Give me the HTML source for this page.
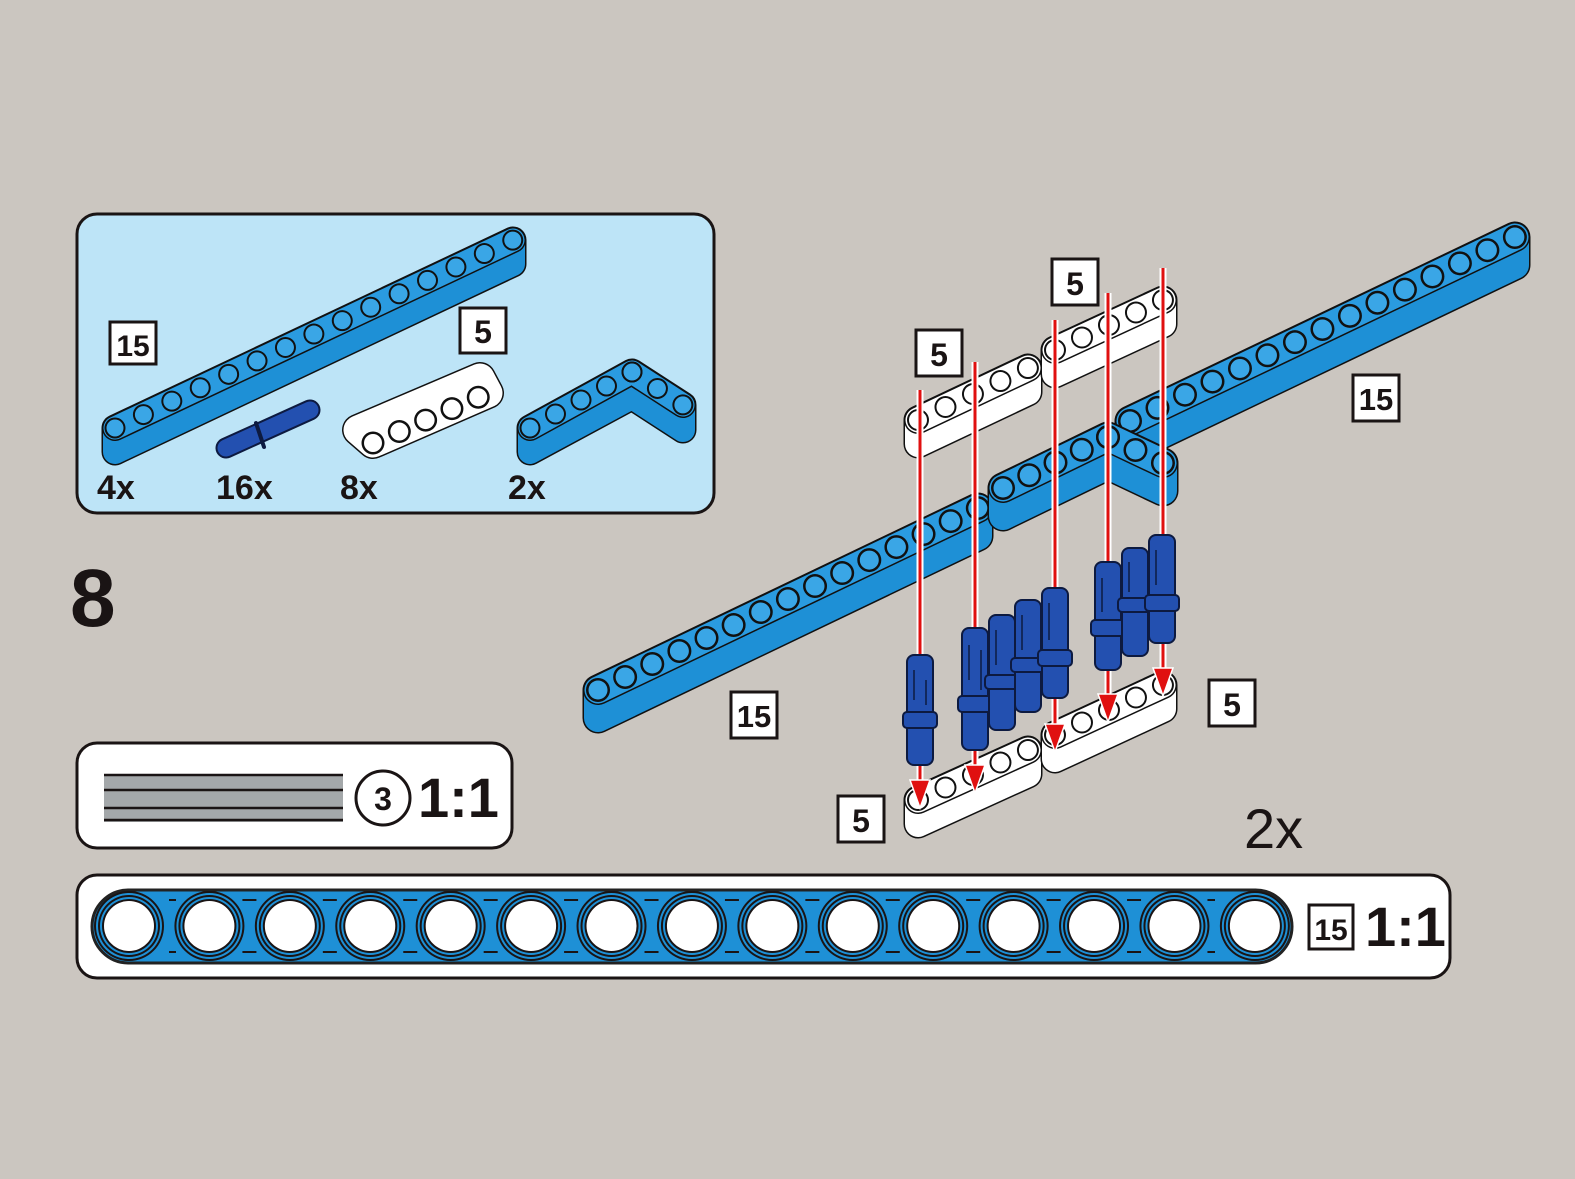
<!DOCTYPE html>
<html><head><meta charset="utf-8"><style>
html,body{margin:0;padding:0;background:#cbc6c0}
svg{display:block}
text{font-family:"Liberation Sans",sans-serif;font-weight:bold;fill:#1a1414}
</style></head><body>
<svg width="1575" height="1179" viewBox="0 0 1575 1179" xmlns="http://www.w3.org/2000/svg">
<rect width="1575" height="1179" fill="#cbc6c0"/>

<!-- Parts box -->
<rect x="77" y="214" width="637" height="299" rx="20" fill="#bde4f7" stroke="#1a1414" stroke-width="3"/>
<g stroke-linejoin="round" stroke-linecap="round">
<polygon points="115,428 513,240 513,264 115,452" fill="#111" stroke="#111" stroke-width="27"/>
<polygon points="115,428 513,240 513,264 115,452" fill="#1e90d6" stroke="#1e90d6" stroke-width="24"/>
<line x1="115" y1="428" x2="513" y2="240" stroke="#111" stroke-width="26"/>
<line x1="115" y1="428" x2="513" y2="240" stroke="#2a9be0" stroke-width="23"/>
<line x1="115" y1="428" x2="513" y2="240" stroke="#111" stroke-width="21" stroke-dasharray="0 31.42"/>
<line x1="115" y1="428" x2="513" y2="240" stroke="#3aa6e6" stroke-width="17" stroke-dasharray="0 31.42"/>
<!-- pin in box -->
<line x1="226" y1="448" x2="310" y2="410" stroke="#0d1a40" stroke-width="21"/>
<line x1="226" y1="448" x2="310" y2="410" stroke="#2350b0" stroke-width="17"/>
<line x1="256" y1="423" x2="264" y2="447" stroke="#0d1a40" stroke-width="4"/>
<!-- white 5 beam in box -->
<polygon points="358,430 480,378 488,393 373,443" fill="#111" stroke="#111" stroke-width="32"/>
<polygon points="358,430 480,378 488,393 373,443" fill="#fff" stroke="#fff" stroke-width="29"/>
<line x1="373" y1="443" x2="488" y2="393" stroke="#111" stroke-width="23" stroke-dasharray="0 28.69"/>
<line x1="373" y1="443" x2="488" y2="393" stroke="#fff" stroke-width="18" stroke-dasharray="0 28.69"/>
<!-- L beam in box -->
<polygon points="530,428 632,372 683,405 683,430 632,397 530,452" fill="#111" stroke="#111" stroke-width="27"/>
<polygon points="530,428 632,372 683,405 683,430 632,397 530,452" fill="#1e90d6" stroke="#1e90d6" stroke-width="24"/>
<polyline points="530,428 632,372 683,405" fill="none" stroke="#111" stroke-width="26"/>
<polyline points="530,428 632,372 683,405" fill="none" stroke="#2a9be0" stroke-width="23"/>
<line x1="530" y1="428" x2="632" y2="372" stroke="#111" stroke-width="21" stroke-dasharray="0 29.09"/>
<line x1="530" y1="428" x2="632" y2="372" stroke="#3aa6e6" stroke-width="17" stroke-dasharray="0 29.09"/>
<line x1="632" y1="372" x2="683" y2="405" stroke="#111" stroke-width="21" stroke-dasharray="0 30.29"/>
<line x1="632" y1="372" x2="683" y2="405" stroke="#3aa6e6" stroke-width="17" stroke-dasharray="0 30.29"/>
</g>
<rect x="110" y="322" width="46" height="42" fill="#fff" stroke="#1a1414" stroke-width="3"/>
<text x="133" y="356" font-size="30" text-anchor="middle">15</text>
<rect x="460" y="308" width="46" height="45" fill="#fff" stroke="#1a1414" stroke-width="3"/>
<text x="483" y="343" font-size="32" text-anchor="middle">5</text>
<text x="97" y="499" font-size="34">4x</text>
<text x="216" y="499" font-size="34">16x</text>
<text x="340" y="499" font-size="34">8x</text>
<text x="508" y="499" font-size="34">2x</text>

<text x="70" y="626" font-size="82">8</text>

<!-- Main assembly -->
<g stroke-linejoin="round" stroke-linecap="round">
<polygon points="598,690 978,508 978,536 598,718" fill="#111" stroke="#111" stroke-width="31"/>
<polygon points="598,690 978,508 978,536 598,718" fill="#1e90d6" stroke="#1e90d6" stroke-width="28"/>
<line x1="598" y1="690" x2="978" y2="508" stroke="#111" stroke-width="30"/>
<line x1="598" y1="690" x2="978" y2="508" stroke="#2a9be0" stroke-width="27"/>
<line x1="598" y1="690" x2="978" y2="508" stroke="#111" stroke-width="24" stroke-dasharray="0 30.08"/>
<line x1="598" y1="690" x2="978" y2="508" stroke="#3aa6e6" stroke-width="19" stroke-dasharray="0 30.08"/>

<polygon points="1130,421 1515,237 1515,265 1130,449" fill="#111" stroke="#111" stroke-width="31"/>
<polygon points="1130,421 1515,237 1515,265 1130,449" fill="#1e90d6" stroke="#1e90d6" stroke-width="28"/>
<line x1="1130" y1="421" x2="1515" y2="237" stroke="#111" stroke-width="30"/>
<line x1="1130" y1="421" x2="1515" y2="237" stroke="#2a9be0" stroke-width="27"/>
<line x1="1130" y1="421" x2="1515" y2="237" stroke="#111" stroke-width="24" stroke-dasharray="0 30.47"/>
<line x1="1130" y1="421" x2="1515" y2="237" stroke="#3aa6e6" stroke-width="19" stroke-dasharray="0 30.47"/>

<polygon points="1003,488 1108,437 1163,463 1163,491 1108,465 1003,516" fill="#111" stroke="#111" stroke-width="31"/>
<polygon points="1003,488 1108,437 1163,463 1163,491 1108,465 1003,516" fill="#1e90d6" stroke="#1e90d6" stroke-width="28"/>
<polyline points="1003,488 1108,437 1163,463" fill="none" stroke="#111" stroke-width="30"/>
<polyline points="1003,488 1108,437 1163,463" fill="none" stroke="#2a9be0" stroke-width="27"/>
<line x1="1108" y1="465" x2="1108" y2="490" stroke="#111" stroke-width="2"/>
<line x1="1003" y1="488" x2="1108" y2="437" stroke="#111" stroke-width="24" stroke-dasharray="0 29.18"/>
<line x1="1003" y1="488" x2="1108" y2="437" stroke="#3aa6e6" stroke-width="19" stroke-dasharray="0 29.18"/>
<line x1="1108" y1="437" x2="1163" y2="463" stroke="#111" stroke-width="24" stroke-dasharray="0 30.39"/>
<line x1="1108" y1="437" x2="1163" y2="463" stroke="#3aa6e6" stroke-width="19" stroke-dasharray="0 30.39"/>

<!-- white top beams -->
<polygon points="918,420 1028,368 1028,392 918,444" fill="#111" stroke="#111" stroke-width="29"/>
<polygon points="918,420 1028,368 1028,392 918,444" fill="#fff" stroke="#fff" stroke-width="26"/>
<line x1="918" y1="420" x2="1028" y2="368" stroke="#111" stroke-width="28"/>
<line x1="918" y1="420" x2="1028" y2="368" stroke="#fff" stroke-width="25"/>
<line x1="918" y1="420" x2="1028" y2="368" stroke="#111" stroke-width="22" stroke-dasharray="0 30.39"/>
<line x1="918" y1="420" x2="1028" y2="368" stroke="#fff" stroke-width="18" stroke-dasharray="0 30.39"/>
<polygon points="1055,350 1163,300 1163,324 1055,374" fill="#111" stroke="#111" stroke-width="29"/>
<polygon points="1055,350 1163,300 1163,324 1055,374" fill="#fff" stroke="#fff" stroke-width="26"/>
<line x1="1055" y1="350" x2="1163" y2="300" stroke="#111" stroke-width="28"/>
<line x1="1055" y1="350" x2="1163" y2="300" stroke="#fff" stroke-width="25"/>
<line x1="1055" y1="350" x2="1163" y2="300" stroke="#111" stroke-width="22" stroke-dasharray="0 29.74"/>
<line x1="1055" y1="350" x2="1163" y2="300" stroke="#fff" stroke-width="18" stroke-dasharray="0 29.74"/>

<!-- white bottom beams -->
<polygon points="918,800 1028,750 1028,774 918,824" fill="#111" stroke="#111" stroke-width="29"/>
<polygon points="918,800 1028,750 1028,774 918,824" fill="#fff" stroke="#fff" stroke-width="26"/>
<line x1="918" y1="800" x2="1028" y2="750" stroke="#111" stroke-width="28"/>
<line x1="918" y1="800" x2="1028" y2="750" stroke="#fff" stroke-width="25"/>
<line x1="918" y1="800" x2="1028" y2="750" stroke="#111" stroke-width="22" stroke-dasharray="0 30.19"/>
<line x1="918" y1="800" x2="1028" y2="750" stroke="#fff" stroke-width="18" stroke-dasharray="0 30.19"/>
<polygon points="1055,735 1163,685 1163,709 1055,759" fill="#111" stroke="#111" stroke-width="29"/>
<polygon points="1055,735 1163,685 1163,709 1055,759" fill="#fff" stroke="#fff" stroke-width="26"/>
<line x1="1055" y1="735" x2="1163" y2="685" stroke="#111" stroke-width="28"/>
<line x1="1055" y1="735" x2="1163" y2="685" stroke="#fff" stroke-width="25"/>
<line x1="1055" y1="735" x2="1163" y2="685" stroke="#111" stroke-width="22" stroke-dasharray="0 29.74"/>
<line x1="1055" y1="735" x2="1163" y2="685" stroke="#fff" stroke-width="18" stroke-dasharray="0 29.74"/>
</g>

<!-- red guide lines -->
<g stroke-linecap="butt">
<g stroke="#fff" stroke-width="7">
<line x1="920" y1="390" x2="920" y2="785"/>
<line x1="975" y1="362" x2="975" y2="770"/>
<line x1="1055" y1="320" x2="1055" y2="730"/>
<line x1="1108" y1="293" x2="1108" y2="700"/>
<line x1="1163" y1="268" x2="1163" y2="675"/>
</g>
<g stroke="#e01010" stroke-width="3">
<line x1="920" y1="390" x2="920" y2="785"/>
<line x1="975" y1="362" x2="975" y2="770"/>
<line x1="1055" y1="320" x2="1055" y2="730"/>
<line x1="1108" y1="293" x2="1108" y2="700"/>
<line x1="1163" y1="268" x2="1163" y2="675"/>
</g>
</g>

<!-- pins -->
<g fill="#2350b0" stroke="#0d1a40" stroke-width="2">
<rect x="907" y="655" width="26" height="110" rx="7"/><rect x="903" y="712" width="34" height="16" rx="4"/>
<rect x="962" y="628" width="26" height="122" rx="7"/><rect x="958" y="696" width="34" height="16" rx="4"/>
<rect x="989" y="615" width="26" height="115" rx="7"/><rect x="985" y="675" width="34" height="14" rx="4"/>
<rect x="1015" y="600" width="26" height="112" rx="7"/><rect x="1011" y="658" width="34" height="14" rx="4"/>
<rect x="1042" y="588" width="26" height="110" rx="7"/><rect x="1038" y="650" width="34" height="16" rx="4"/>
<rect x="1095" y="562" width="26" height="108" rx="7"/><rect x="1091" y="620" width="34" height="16" rx="4"/>
<rect x="1122" y="548" width="26" height="108" rx="7"/><rect x="1118" y="598" width="34" height="14" rx="4"/>
<rect x="1149" y="535" width="26" height="108" rx="7"/><rect x="1145" y="595" width="34" height="16" rx="4"/>
</g>
<g stroke="#0d1a40" stroke-width="1.5">
<line x1="914" y1="670" x2="914" y2="700"/><line x1="926" y1="680" x2="926" y2="705"/>
<line x1="969" y1="645" x2="969" y2="680"/><line x1="981" y1="650" x2="981" y2="690"/>
<line x1="996" y1="630" x2="996" y2="665"/><line x1="1022" y1="615" x2="1022" y2="650"/>
<line x1="1049" y1="603" x2="1049" y2="640"/><line x1="1102" y1="578" x2="1102" y2="612"/>
<line x1="1129" y1="562" x2="1129" y2="592"/><line x1="1156" y1="550" x2="1156" y2="585"/>
</g>

<g fill="#e01010" stroke="#fff" stroke-width="1.5">
<polygon points="910,780 930,780 920,808"/>
<polygon points="965,765 985,765 975,793"/>
<polygon points="1045,724 1065,724 1055,752"/>
<polygon points="1098,694 1118,694 1108,722"/>
<polygon points="1153,668 1173,668 1163,696"/>
</g>

<g>
<rect x="916" y="330" width="46" height="46" fill="#fff" stroke="#1a1414" stroke-width="3"/>
<text x="939" y="366" font-size="32" text-anchor="middle">5</text>
<rect x="1052" y="259" width="46" height="46" fill="#fff" stroke="#1a1414" stroke-width="3"/>
<text x="1075" y="295" font-size="32" text-anchor="middle">5</text>
<rect x="1209" y="680" width="46" height="46" fill="#fff" stroke="#1a1414" stroke-width="3"/>
<text x="1232" y="716" font-size="32" text-anchor="middle">5</text>
<rect x="838" y="796" width="46" height="46" fill="#fff" stroke="#1a1414" stroke-width="3"/>
<text x="861" y="832" font-size="32" text-anchor="middle">5</text>
<rect x="1353" y="375" width="46" height="46" fill="#fff" stroke="#1a1414" stroke-width="3"/>
<text x="1376" y="410" font-size="31" text-anchor="middle">15</text>
<rect x="731" y="692" width="46" height="46" fill="#fff" stroke="#1a1414" stroke-width="3"/>
<text x="754" y="727" font-size="31" text-anchor="middle">15</text>
<text x="1244" y="848" font-size="56" style="font-weight:normal">2x</text>
</g>

<rect x="77" y="743" width="435" height="105" rx="20" fill="#fff" stroke="#1a1414" stroke-width="3"/>
<rect x="104" y="774" width="239" height="48" fill="#a4a8aa"/>
<g stroke="#1a1414" stroke-width="2.5">
<line x1="104" y1="775" x2="343" y2="775"/><line x1="104" y1="790" x2="343" y2="790"/>
<line x1="104" y1="808" x2="343" y2="808"/><line x1="104" y1="820" x2="343" y2="820"/>
</g>
<circle cx="383" cy="798" r="27" fill="#fff" stroke="#1a1414" stroke-width="3"/>
<text x="383" y="810" font-size="32" text-anchor="middle">3</text>
<text x="418" y="817" font-size="56">1:1</text>

<rect x="77" y="875" width="1373" height="103" rx="20" fill="#fff" stroke="#1a1414" stroke-width="3"/>
<rect x="92" y="890" width="1200" height="73" rx="36.5" fill="#1e90d6" stroke="#222" stroke-width="3"/>
<g stroke-linecap="round">
<line x1="129" y1="926" x2="1256" y2="926" stroke="#1a1414" stroke-width="70" stroke-dasharray="0 80.42"/>
<line x1="129" y1="926" x2="1256" y2="926" stroke="#1e90d6" stroke-width="66" stroke-dasharray="0 80.42"/>
<line x1="129" y1="926" x2="1256" y2="926" stroke="#1a1414" stroke-width="62" stroke-dasharray="0 80.42"/>
<line x1="129" y1="926" x2="1256" y2="926" stroke="#1e90d6" stroke-width="58" stroke-dasharray="0 80.42"/>
<line x1="129" y1="926" x2="1256" y2="926" stroke="#1a1414" stroke-width="54" stroke-dasharray="0 80.42"/>
<line x1="129" y1="926" x2="1256" y2="926" stroke="#fff" stroke-width="50" stroke-dasharray="0 80.42"/>
</g>
<g fill="none" stroke="#1a1414" stroke-width="2">
<line x1="169" y1="900" x2="1215" y2="900" stroke-dasharray="14 66.42" stroke-dashoffset="7"/>
<line x1="169" y1="952" x2="1215" y2="952" stroke-dasharray="14 66.42" stroke-dashoffset="7"/>
</g>
<rect x="1309" y="905" width="44" height="44" fill="#fff" stroke="#1a1414" stroke-width="3"/>
<text x="1331" y="940" font-size="30" text-anchor="middle">15</text>
<text x="1365" y="946" font-size="56">1:1</text>
</svg>
</body></html>
